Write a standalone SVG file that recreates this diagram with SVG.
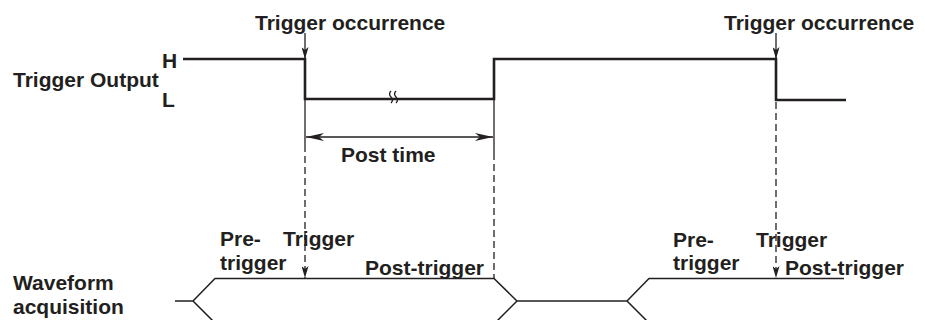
<svg xmlns="http://www.w3.org/2000/svg" width="925" height="320" viewBox="0 0 925 320">
<style>
text{font-family:"Liberation Sans",Arial,Helvetica,sans-serif;font-weight:bold;font-size:21px;fill:#231f20}
.sig{fill:none;stroke:#231f20;stroke-width:2.6;stroke-linejoin:miter}
.thin{fill:none;stroke:#231f20;stroke-width:1.3}
.dash{fill:none;stroke:#231f20;stroke-width:1.3;stroke-dasharray:7 4}
.wf{fill:none;stroke:#231f20;stroke-width:1.5}
</style>
<defs>
<marker id="ah" markerUnits="userSpaceOnUse" viewBox="0 0 12 7" refX="12" refY="3.5" markerWidth="12" markerHeight="7" orient="auto">
<path d="M0,0 L12,3.5 L0,7 L3,3.5 Z" fill="#231f20"/>
</marker>
<marker id="ahl" markerUnits="userSpaceOnUse" viewBox="0 0 18 8" refX="18" refY="4" markerWidth="18" markerHeight="8" orient="auto-start-reverse">
<path d="M0,0 L18,4 L0,8 L5,4 Z" fill="#231f20"/>
</marker>
</defs>

<g id="trigger-output-label">
<text x="13" y="87">Trigger Output</text>
<text x="162" y="68">H</text>
<text x="162" y="107">L</text>
</g>

<g id="waveform-label">
<text x="13" y="290">Waveform</text>
<text x="13" y="314">acquisition</text>
</g>

<g id="trigger-occurrence-1">
<text x="255" y="30">Trigger occurrence</text>
</g>
<g id="trigger-occurrence-2">
<text x="724" y="30">Trigger occurrence</text>
</g>

<g id="trigger-output-signal">
<path class="sig" d="M183,59 H305 V99 H494 V59 H776 V100 H846"/>
<path class="thin" d="M391,91 q-3,3 0,6 q3,3 0,6 M396,91 q-3,3 0,6 q3,3 0,6" fill="none"/>
</g>

<g id="post-time">
<text x="341" y="162">Post time</text>
</g>

<g id="acquisition-signal">
<path class="wf" d="M175,301 H193 L215,278.5 H494 L517,301 H627 L649,278.5 H844"/>
<path class="wf" d="M193,301 L217,325 M517,301 L493,325 M627,301 L651,325"/>
</g>

<g id="acq-labels-1">
<text x="220" y="246">Pre-</text>
<text x="220" y="270">trigger</text>
<text x="283" y="246">Trigger</text>
<text x="365" y="275">Post-trigger</text>
</g>
<g id="acq-labels-2">
<text x="673" y="247">Pre-</text>
<text x="673" y="270">trigger</text>
<text x="756" y="247">Trigger</text>
<text x="785" y="275">Post-trigger</text>
</g>

<g id="connectors">
<line class="thin" x1="305" y1="33" x2="305" y2="59" marker-end="url(#ah)"/>
<line class="thin" x1="776" y1="33" x2="776" y2="59" marker-end="url(#ah)"/>
<line class="thin" x1="305" y1="99" x2="305" y2="152"/>
<line class="dash" x1="305" y1="156" x2="305" y2="278" marker-end="url(#ah)"/>
<line class="thin" x1="494" y1="99" x2="494" y2="160"/>
<line class="dash" x1="494" y1="164" x2="494" y2="278"/>
<line class="dash" x1="776" y1="102" x2="776" y2="278" marker-end="url(#ah)"/>
<line class="thin" x1="306" y1="137" x2="493" y2="137" marker-start="url(#ahl)" marker-end="url(#ahl)"/>
</g>
</svg>
